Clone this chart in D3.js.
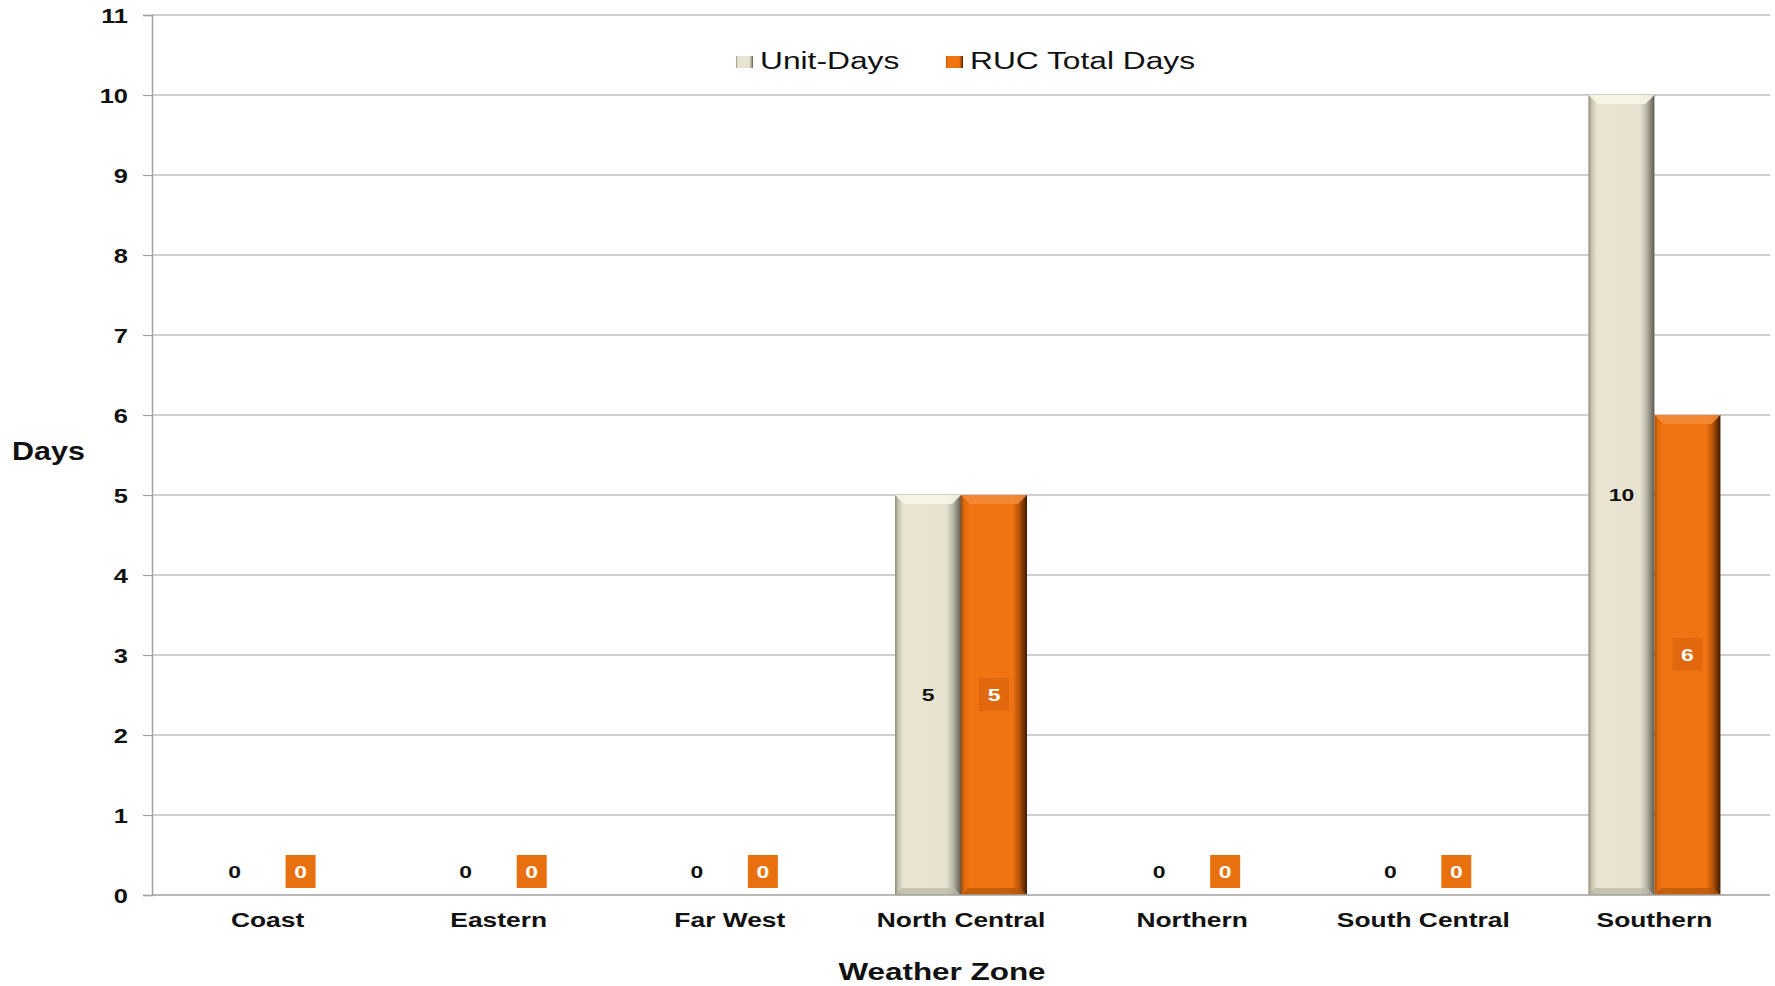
<!DOCTYPE html>
<html>
<head>
<meta charset="utf-8">
<script src="https://cdn.jsdelivr.net/npm/d3@7"></script>
<style>
  body { margin: 0; background: #fff; }
  text { font-family: "Liberation Sans", Arial, sans-serif; fill: #111; }
</style>
</head>
<body>
<div id="chart"></div>
<script>
// data
var zones = ["Coast", "Eastern", "Far West", "North Central", "Northern", "South Central", "Southern"];
var unitDays = [0, 0, 0, 5, 0, 0, 10];
var rucDays = [0, 0, 0, 5, 0, 0, 6];
var seriesNames = ["Unit-Days", "RUC Total Days"];
var yTicks = [0, 1, 2, 3, 4, 5, 6, 7, 8, 9, 10, 11];

(function () {
    var W = 1775, H = 986;
    var plotLeft = 152, plotRight = 1770, plotTop = 15, plotBottom = 895;
    var SX = 1.27; // the reference text is stretched sideways

    var svg = d3.select("#chart").append("svg")
        .attr("width", W).attr("height", H);

    var defs = svg.append("defs");
    function grad(id, stops) {
        var g = defs.append("linearGradient").attr("id", id)
            .attr("x1", "0").attr("x2", "1").attr("y1", "0").attr("y2", "0");
        stops.forEach(function (s) {
            g.append("stop").attr("offset", s[0]).attr("stop-color", s[1]);
        });
    }
    grad("unitGrad", [["0%", "#8e8b7b"], ["5%", "#c9c5b2"], ["13%", "#e8e4d1"], ["78%", "#e7e3d0"], ["88%", "#b9b6a6"], ["100%", "#5e5c52"]]);
    grad("rucGrad", [["0%", "#a84c06"], ["5%", "#e06a0c"], ["13%", "#f07512"], ["78%", "#ef7411"], ["88%", "#b85408"], ["100%", "#3e1c02"]]);

    var x = d3.scaleBand().domain(zones).range([plotLeft, plotRight]);
    var sub = d3.scaleBand().domain(seriesNames)
        .range([x.bandwidth() / 2 - 66, x.bandwidth() / 2 + 66]);
    var y = d3.scaleLinear().domain([0, 11]).range([plotBottom, plotTop]);

    //GRID
    svg.append("g")
        .selectAll("line").data(yTicks.slice(1)).join("line")
        .attr("x1", plotLeft).attr("x2", plotRight)
        .attr("y1", function (d) { return y(d); })
        .attr("y2", function (d) { return y(d); })
        .attr("stroke", "#a0a0a0").attr("stroke-width", 1.2);

    //Y AXIS
    var yAxis = svg.append("g")
        .attr("transform", "translate(" + plotLeft + ",0)")
        .call(d3.axisLeft(y).tickValues(yTicks).tickSize(9).tickFormat(d3.format("d")));
    yAxis.select(".domain").attr("stroke", "#a0a0a0").attr("stroke-width", 1.5);
    yAxis.selectAll(".tick line").attr("stroke", "#a0a0a0").attr("stroke-width", 1.2);
    yAxis.selectAll(".tick text")
        .attr("x", null).attr("dy", "0.36em")
        .attr("transform", "translate(-24,0) scale(" + SX + ",1)")
        .attr("text-anchor", "end")
        .style("font-size", "20px").style("font-weight", "bold").style("fill", "#111");

    //BARS
    var rows = zones.map(function (z, i) {
        return [
            { zone: z, name: seriesNames[0], v: unitDays[i] },
            { zone: z, name: seriesNames[1], v: rucDays[i] }
        ];
    });

    var groups = svg.append("g").selectAll("g").data(rows).join("g")
        .attr("transform", function (d) { return "translate(" + x(d[0].zone) + ",0)"; });

    var bars = groups.selectAll("g.bar").data(function (d) { return d.filter(function (b) { return b.v > 0; }); })
        .join("g").attr("class", "bar");

    bars.append("rect")
        .attr("x", function (d) { return sub(d.name); })
        .attr("y", function (d) { return y(d.v); })
        .attr("width", sub.bandwidth())
        .attr("height", function (d) { return y(0) - y(d.v); })
        .attr("fill", function (d) { return d.name === seriesNames[0] ? "url(#unitGrad)" : "url(#rucGrad)"; });

    // top bevel
    bars.append("path")
        .attr("d", function (d) {
            var x0 = sub(d.name), w = sub.bandwidth(), y0 = y(d.v), b = 9;
            return "M" + x0 + "," + y0 + "L" + (x0 + w) + "," + y0 + "L" + (x0 + w - b) + "," + (y0 + b) + "L" + (x0 + b) + "," + (y0 + b) + "Z";
        })
        .attr("fill", function (d) { return d.name === seriesNames[0] ? "#f8f5e6" : "#f48a36"; })
        .attr("opacity", 0.9);

    // bottom bevel
    bars.append("path")
        .attr("d", function (d) {
            var x0 = sub(d.name), w = sub.bandwidth(), y0 = y(0), b = 7;
            return "M" + x0 + "," + y0 + "L" + (x0 + w) + "," + y0 + "L" + (x0 + w - b) + "," + (y0 - b) + "L" + (x0 + b) + "," + (y0 - b) + "Z";
        })
        .attr("fill", function (d) { return d.name === seriesNames[0] ? "#b8b5a4" : "#b4560a"; })
        .attr("opacity", 0.7);

    //X AXIS LINE
    svg.append("line")
        .attr("x1", plotLeft).attr("x2", plotRight)
        .attr("y1", y(0)).attr("y2", y(0))
        .attr("stroke", "#a0a0a0").attr("stroke-width", 1.5);

    //DATA LABELS
    var labels = groups.selectAll("g.lab").data(function (d) { return d; }).join("g")
        .attr("class", "lab")
        .attr("transform", function (d) {
            var cx = sub(d.name) + sub.bandwidth() / 2;
            var cy = d.v > 0 ? y(d.v / 2) : y(0) - 23;
            return "translate(" + cx + "," + cy + ")";
        });

    labels.filter(function (d) { return d.name === seriesNames[1]; })
        .append("rect")
        .attr("x", -15).attr("y", -17).attr("width", 30).attr("height", 33)
        .attr("fill", function (d) { return d.v > 0 ? "#e2680d" : "#e8700f"; });

    labels.append("text")
        .attr("transform", "scale(1.35,1)")
        .attr("text-anchor", "middle")
        .attr("dy", "0.36em")
        .style("font-size", "17px").style("font-weight", "bold")
        .style("fill", function (d) { return d.name === seriesNames[1] ? "#fff" : "#111"; })
        .text(function (d) { return d.v; });

    //CATEGORY LABELS
    svg.append("g").selectAll("text").data(zones).join("text")
        .attr("transform", function (d) { return "translate(" + (x(d) + x.bandwidth() / 2) + ",927) scale(1.32,1)"; })
        .attr("text-anchor", "middle")
        .style("font-size", "20px").style("font-weight", "bold")
        .text(function (d) { return d; });

    //AXIS TITLES
    svg.append("text")
        .attr("transform", "translate(942,980) scale(1.31,1)")
        .attr("text-anchor", "middle")
        .style("font-size", "24px").style("font-weight", "bold")
        .text("Weather Zone");

    svg.append("text")
        .attr("transform", "translate(12,460) scale(1.22,1)")
        .style("font-size", "25px").style("font-weight", "bold")
        .text("Days");

    //LEGEND
    var legendX = [736, 946];
    var legendFill = ["url(#unitGrad)", "url(#rucGrad)"];
    var legend = svg.append("g").selectAll("g").data(seriesNames).join("g")
        .attr("transform", function (d, i) { return "translate(" + legendX[i] + ",0)"; });
    legend.append("rect")
        .attr("x", 0).attr("y", 56).attr("width", 17).attr("height", 12)
        .attr("fill", function (d, i) { return legendFill[i]; });
    legend.append("text")
        .attr("transform", "translate(24,69) scale(1.38,1)")
        .style("font-size", "23px")
        .text(function (d) { return d; });
})();
</script>
</body>
</html>
